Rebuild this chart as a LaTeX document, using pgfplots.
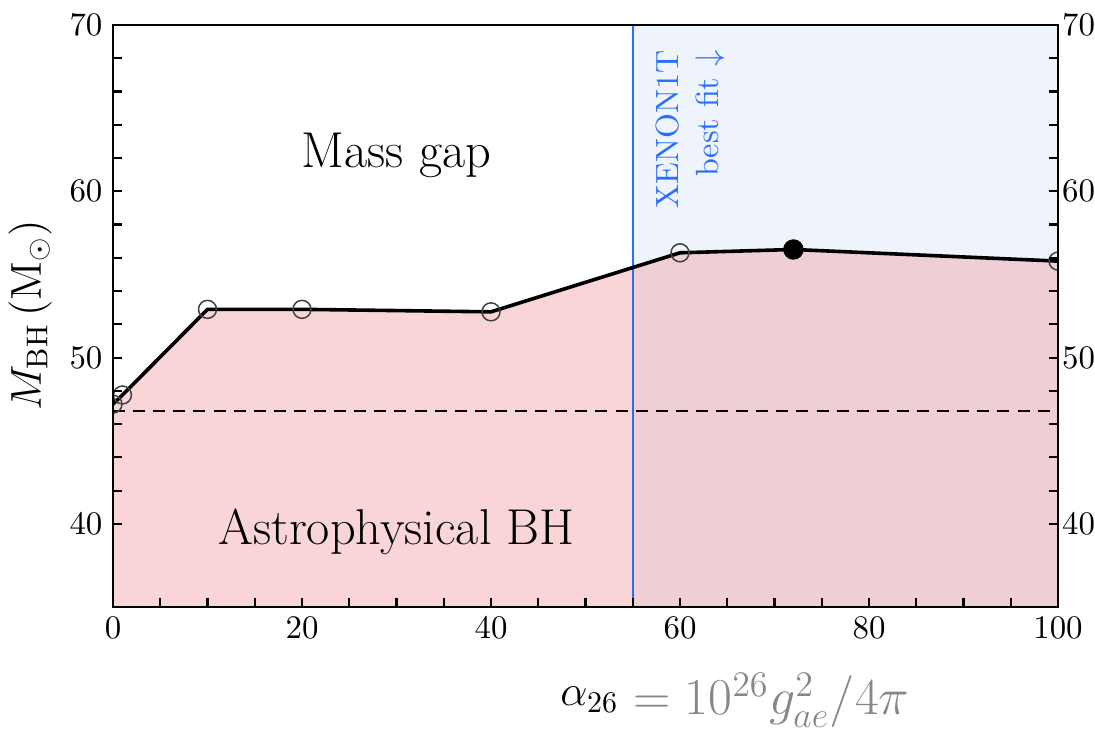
\documentclass[border=0pt]{standalone}
\usepackage{pgfplots}
\pgfplotsset{compat=1.18}
\definecolor{xblue}{RGB}{40,110,250}
\definecolor{bgblue}{RGB}{238,243,252}
\definecolor{redfill}{RGB}{243,171,175}
\definecolor{lblgray}{RGB}{135,135,135}
\begin{document}
\begin{tikzpicture}
\useasboundingbox (-37.67pt,-41.33pt) rectangle (327.33pt,202.33pt);
\begin{axis}[
  at={(0,0)}, anchor=south west,
  scale only axis, width=315pt, height=194pt,
  xmin=0, xmax=100, ymin=35, ymax=70,
  xtick={0,20,...,100}, ytick={40,50,60,70},
  minor x tick num=3, minor y tick num=4,
  xtick pos=lower, ytick pos=both, yticklabel pos=left,
  tick align=inside,
  major tick length=3pt, minor tick length=3pt,
  axis line style={line width=0.7pt},
  every tick/.style={black, line width=0.7pt},
  clip marker paths=true,
  tick label style={font=\fontsize{10.5}{12.5}\selectfont},
  axis on top,
]
% blue region
\addplot[draw=none, fill=bgblue] coordinates {(55,70) (100,70)} \closedcycle;
% red region under curve
\addplot[draw=none, fill=redfill, fill opacity=0.5] coordinates {
(0,47.2) (1,47.75) (10,52.9) (20,52.9) (40,52.75) (60,56.3) (72,56.5) (100,55.8)} \closedcycle;
% XENON1T line
\addplot[xblue, line width=0.8pt] coordinates {(55,35) (55,70)};
% dashed line
\addplot[black, line width=0.7pt, dash pattern=on 4pt off 2.7pt] coordinates {(0,46.8) (100,46.8)};
% curve
\addplot[black, line width=1.2pt] coordinates {
(0,47.2) (1,47.75) (10,52.9) (20,52.9) (40,52.75) (60,56.3) (72,56.5) (100,55.8)};
% open markers
\addplot[only marks, mark=o, mark size=3pt, mark options={draw=black!75, line width=0.5pt}] coordinates {
(0,47.2) (1,47.75) (10,52.9) (20,52.9) (40,52.75) (60,56.3) (100,55.8)};
% best fit
\addplot[only marks, mark=*, mark size=3.2pt, black] coordinates {(72,56.5)};
\node[anchor=base, font=\fontsize{16.8}{19}\selectfont] at (axis cs:30,61.46) {Mass gap};
\node[anchor=base, font=\fontsize{16.8}{19}\selectfont] at (axis cs:30,38.73) {Astrophysical BH};
\node[rotate=90, anchor=north east, inner sep=0pt, align=right, text=xblue,
      font=\fontsize{10.7}{13.3}\selectfont] at (axis cs:57.35,68.5) {XENON1T\\best fit $\downarrow$};
\end{axis}
\begin{axis}[
  at={(0,0)}, anchor=south west,
  scale only axis, width=315pt, height=194pt,
  xmin=0, xmax=100, ymin=35, ymax=70,
  hide x axis,
  axis line style={draw=none},
  ytick={40,50,60,70},
  ytick pos=right, yticklabel pos=right,
  major tick length=0pt,
  tick label style={font=\fontsize{10.5}{12.5}\selectfont, inner sep=1.2pt},
]
\addplot[draw=none] coordinates {(0,40) (100,60)};
\end{axis}
\node[rotate=90, font=\fontsize{14}{16}\selectfont] at (-27.67pt,97.3pt) {$M_{\mathrm{BH}}\,(\mathrm{M}_\odot)$};
\node[anchor=base] at (207.3pt,-36pt) {\raisebox{3pt}{\fontsize{14.3}{16}\selectfont$\alpha_{26}$}{\fontsize{18.3}{20}\selectfont\color{lblgray}$\;=10^{26}g_{ae}^2/4\pi$}};
\end{tikzpicture}
\end{document}
